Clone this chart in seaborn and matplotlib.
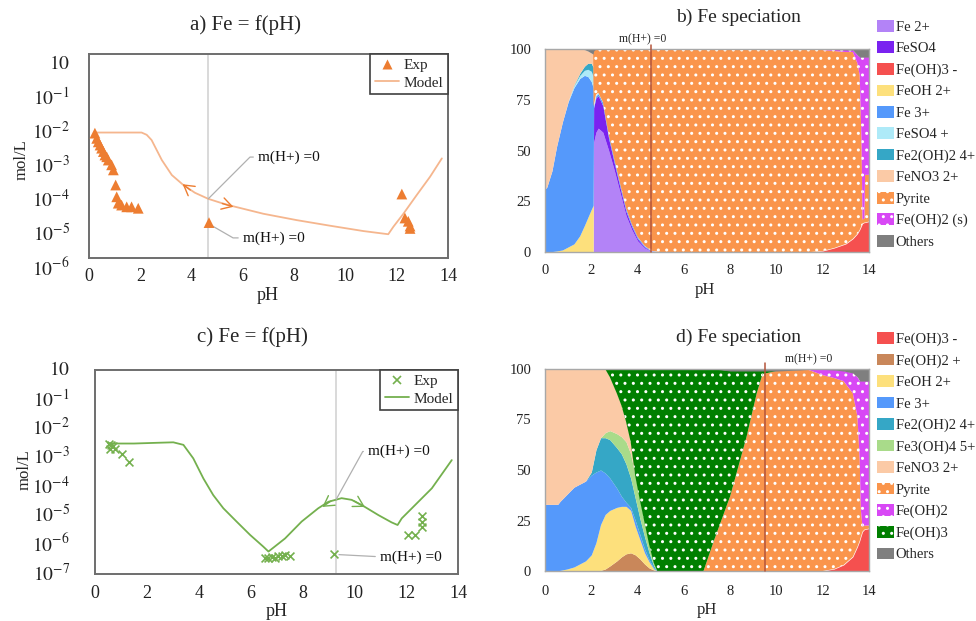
import matplotlib
matplotlib.use("Agg")
import matplotlib.pyplot as plt
import seaborn as sns
from matplotlib.patches import Patch
from matplotlib.lines import Line2D
from matplotlib.ticker import NullLocator
from matplotlib.transforms import ScaledTranslation, blended_transform_factory

sns.set_theme(style="white")
plt.rcParams["font.family"] = ["Liberation Serif", "DejaVu Serif"]
plt.rcParams["mathtext.fontset"] = "stix"
plt.rcParams["hatch.color"] = "white"
plt.rcParams["hatch.linewidth"] = 1.0

# ---------------- Panel a data ----------------
exp_a_ph = [0.23, 0.30, 0.36, 0.43, 0.49, 0.56, 0.62, 0.69, 0.75, 0.88, 0.95, 1.04,
            1.08, 1.14, 1.27, 1.47, 1.66, 1.92, 4.68, 12.2, 12.32, 12.45, 12.52, 12.52]
exp_a_fe = [4.7e-3, 3.3e-3, 2.6e-3, 2.1e-3, 1.7e-3, 1.35e-3, 1.07e-3, 9.5e-4, 7.6e-4, 5.5e-4,
            3.9e-4, 1.4e-4, 6.3e-5, 4.1e-5, 3.6e-5, 3.2e-5, 3.2e-5, 2.9e-5, 1.1e-5, 7.6e-5,
            1.5e-5, 1.2e-5, 8.7e-6, 7.4e-6]
model_a_ph = [0.23, 2.05, 2.25, 2.44, 2.84, 3.23, 3.68, 4.13, 4.65, 5.18, 5.57, 6.8, 8.1,
              9.4, 10.7, 11.67, 11.87, 12.26, 12.78, 13.3, 13.76]
model_a_fe = [4.9e-3, 4.9e-3, 4.2e-3, 2.95e-3, 7.6e-4, 2.75e-4, 1.4e-4, 8.3e-5, 5.5e-5, 4.1e-5,
              3.4e-5, 2.0e-5, 1.3e-5, 8.9e-6, 6.2e-6, 5.0e-6, 8.3e-6, 2.0e-5, 7.1e-5, 2.45e-4,
              8.5e-4]

# ---------------- Panel c data ----------------
exp_c_ph = [0.55, 0.58, 0.62, 0.70, 0.78, 1.03, 1.32, 6.56, 6.68, 6.81, 6.94, 7.07, 7.20,
            7.33, 7.52, 9.21, 12.06, 12.34, 12.60, 12.60, 12.60]
exp_c_fe = [3.0e-3, 2.0e-3, 2.6e-3, 2.4e-3, 2.0e-3, 1.3e-3, 7.1e-4, 3.6e-7, 3.5e-7, 3.9e-7,
            3.6e-7, 4.3e-7, 4.1e-7, 4.5e-7, 4.3e-7, 4.7e-7, 2.2e-6, 2.2e-6, 1.0e-5, 6.3e-6,
            4.2e-6]
model_c_ph = [0.51, 1.5, 2.5, 3.02, 3.41, 3.79, 4.18, 4.56, 4.95, 5.46, 5.98, 6.49, 6.69,
              7.33, 7.97, 8.61, 9.0, 9.51, 9.9, 10.41, 10.93, 11.44, 11.67, 11.83, 12.34,
              12.99, 13.76]
model_c_fe = [3.0e-3, 3.0e-3, 3.2e-3, 3.3e-3, 2.7e-3, 9.3e-4, 1.9e-4, 5.1e-5, 1.8e-5, 6.3e-6,
              2.2e-6, 8.7e-7, 5.9e-7, 1.66e-6, 6.3e-6, 1.8e-5, 3.0e-5, 4.0e-5, 3.5e-5, 2.0e-5,
              1.05e-5, 5.9e-6, 4.8e-6, 8.1e-6, 2.3e-5, 8.7e-5, 8.1e-4]

log_ticks_a = [1, 1e-1, 1e-2, 1e-3, 1e-4, 1e-5, 1e-6]
log_labels_a = ["$10$", "$10^{-1}$", "$10^{-2}$", "$10^{-3}$", "$10^{-4}$", "$10^{-5}$", "$10^{-6}$"]
log_ticks_c = [1, 1e-1, 1e-2, 1e-3, 1e-4, 1e-5, 1e-6, 1e-7]
log_labels_c = ["$10$", "$10^{-1}$", "$10^{-2}$", "$10^{-3}$", "$10^{-4}$", "$10^{-5}$", "$10^{-6}$",
                "$10^{-7}$"]
ph_ticks = [0, 2, 4, 6, 8, 10, 12, 14]
pct_ticks = [0, 25, 50, 75, 100]

# ---------------- Panel b data (% of Fe, stacked bottom -> top) ----------------
ph_b = [0, 0.08, 0.3, 0.5, 0.75, 1.0, 1.25, 1.5, 1.7, 1.85, 2.0, 2.08, 2.1, 2.2, 2.3, 2.5,
        2.75, 3.0, 3.25, 3.5, 3.75, 4.0, 4.3, 4.6, 5.0, 6.0, 8.0, 10.0, 11.5, 12.0, 12.5,
        13.0, 13.3, 13.5, 13.6, 13.68, 13.72, 13.8, 13.83, 14.0]
b_feoh3m = [0, 0, 0, 0, 0, 0, 0, 0, 0, 0, 0, 0, 0, 0, 0, 0, 0, 0, 0, 0, 0, 0, 0, 0, 0, 0, 0,
            0, 0, 0.5, 2, 4, 6.5, 9, 11, 13, 14, 14.5, 14.5, 15]
b_fe2 = [0, 0, 0, 0, 0, 0, 0, 0, 0, 0, 0, 0, 54, 59, 61, 59, 50, 40, 29, 18, 11, 5.5, 2, 0.3,
         0, 0, 0, 0, 0, 0, 0, 0, 0, 0, 0, 0, 0, 0, 0, 0]
b_feso4 = [0, 0, 0, 0, 0, 0, 0, 0, 0, 0, 0, 0, 17, 17, 16, 13, 6, 3.5, 2.5, 2, 1.5, 1, 0.5,
           0.1, 0, 0, 0, 0, 0, 0, 0, 0, 0, 0, 0, 0, 0, 0, 0, 0]
b_feoh2p = [0, 0, 0.2, 0.5, 1, 2.5, 4, 8, 13, 17, 21, 23, 0, 0, 0, 0, 0, 0, 0, 0, 0, 0, 0, 0,
            0, 0, 0, 0, 0, 0, 0, 0, 0, 0, 0, 0, 0, 0, 0, 0]
b_fe3 = [31, 32, 39.8, 51.5, 63, 71.5, 77, 77.5, 74, 69.5, 63, 58, 0.5, 1, 1, 1.5, 1.5, 1.5,
         1.5, 1.2, 1, 0.8, 0.5, 0.2, 0, 0, 0, 0, 0, 0, 0, 0, 0, 0, 0, 0, 0, 0, 0, 0]
b_feso4p = [0, 0, 0, 0, 0, 0.3, 1, 1.5, 2.5, 3.5, 5, 5.5, 0.3, 0.5, 0.5, 0.5, 0.5, 0.5, 0.5,
            0.4, 0.3, 0.2, 0.1, 0, 0, 0, 0, 0, 0, 0, 0, 0, 0, 0, 0, 0, 0, 0, 0, 0]
b_fe2oh2 = [0, 0, 0, 0, 0, 0, 0.3, 1, 2, 3, 4, 4.5, 0, 0, 0, 0, 0, 0, 0, 0, 0, 0, 0, 0, 0, 0,
            0, 0, 0, 0, 0, 0, 0, 0, 0, 0, 0, 0, 0, 0]
b_feno3 = [69, 68, 60, 48, 36, 25.7, 17.7, 12, 8.2, 6, 5, 6.5, 0, 0, 0, 0, 0, 0, 0, 0, 0, 0,
           0, 0, 0, 0, 0, 0, 0, 0, 0, 0, 0, 0, 0, 0, 0, 0, 0, 0]
b_pyrite = [0, 0, 0, 0, 0, 0, 0, 0, 0, 0, 0, 0, 27.2, 22.5, 21.5, 26, 42, 54.5, 66.5, 78.4,
            86.2, 92.5, 96.9, 99.4, 100, 100, 100, 100, 100, 99, 97, 94.5, 92, 84, 76, 40, 2,
            2, 23.5, 23]
b_feoh2s = [0, 0, 0, 0, 0, 0, 0, 0, 0, 0, 0, 0, 0, 0, 0, 0, 0, 0, 0, 0, 0, 0, 0, 0, 0, 0, 0,
            0, 0, 0.3, 0.7, 1, 1, 4, 9, 43, 80, 79.5, 58, 58]
b_others = [0, 0, 0, 0, 0, 0, 0, 0, 0.3, 1, 2, 2.5, 1, 0, 0, 0, 0, 0, 0, 0, 0, 0, 0, 0, 0, 0,
            0, 0, 0, 0.2, 0.3, 0.5, 0.5, 3, 4, 4, 4, 4, 4, 4]

# ---------------- Panel d data (% of Fe, stacked bottom -> top) ----------------
ph_d = [0, 0.55, 0.65, 0.95, 1.25, 1.5, 1.75, 2.0, 2.2, 2.4, 2.6, 2.8, 3.1, 3.3, 3.5, 3.7,
        3.9, 4.1, 4.3, 4.5, 4.7, 4.85, 5.5, 6.0, 6.5, 6.85, 7.3, 8.0, 8.7, 9.15, 9.4, 10.0,
        11.0, 11.4, 12.0, 12.5, 12.9, 13.3, 13.5, 13.6, 13.65, 13.72, 13.8, 14.0]
d_feoh3m = [0, 0, 0, 0, 0, 0, 0, 0, 0, 0, 0, 0, 0, 0, 0, 0, 0, 0, 0, 0, 0, 0, 0, 0, 0, 0, 0,
            0, 0, 0, 0, 0, 0, 0, 0, 1, 3, 7, 12, 15, 17, 19.5, 20.5, 21]
d_feoh2p = [0, 0, 0, 0, 0, 0, 0, 0, 0, 0.3, 1, 2.5, 5, 7, 8.5, 9, 8, 6, 3.5, 1.5, 0.5, 0, 0,
            0, 0, 0, 0, 0, 0, 0, 0, 0, 0, 0, 0, 0, 0, 0, 0, 0, 0, 0, 0, 0]
d_feoh2pp = [0, 0.2, 0.3, 1, 2, 3.5, 5, 8, 14, 22.7, 27, 27.5, 26.5, 25, 23.5, 21, 14, 9.5,
             5.5, 3, 0.5, 0, 0, 0, 0, 0, 0, 0, 0, 0, 0, 0, 0, 0, 0, 0, 0, 0, 0, 0, 0, 0, 0, 0]
d_fe3 = [33, 32.8, 34.2, 37, 39.5, 39.5, 39.5, 39.5, 35, 27, 20.5, 16, 9.5, 5, 2, 1.5, 3, 2.5,
         2, 1, 0.5, 0, 0, 0, 0, 0, 0, 0, 0, 0, 0, 0, 0, 0, 0, 0, 0, 0, 0, 0, 0, 0, 0, 0]
d_fe2oh2 = [0, 0, 0, 0, 0, 0, 0, 1.5, 11, 16, 17.5, 19, 20, 21, 19, 14.5, 11, 8, 6, 3.5, 1, 0,
            0, 0, 0, 0, 0, 0, 0, 0, 0, 0, 0, 0, 0, 0, 0, 0, 0, 0, 0, 0, 0, 0]
d_fe3oh4 = [0, 0, 0, 0, 0, 0, 0, 0, 0, 0, 2.5, 4.5, 7, 8.5, 11, 12, 11, 9, 7, 4, 1.5, 0, 0, 0,
            0, 0, 0, 0, 0, 0, 0, 0, 0, 0, 0, 0, 0, 0, 0, 0, 0, 0, 0, 0]
d_feno3 = [67, 67, 65.5, 62, 58.5, 57, 55.5, 51, 40, 34, 31.5, 26.5, 20, 15.5, 10, 6, 0, 0, 0,
           0, 0, 0, 0, 0, 0, 0, 0, 0, 0, 0, 0, 0, 0, 0, 0, 0, 0, 0, 0, 0, 0, 0, 0, 0]
d_pyrite = [0, 0, 0, 0, 0, 0, 0, 0, 0, 0, 0, 0, 0, 0, 0, 0, 0, 0, 0, 0, 0, 0, 0, 0, 0, 0, 15,
            37, 66, 88, 97.5, 99, 99.5, 99.5, 97, 94.5, 91, 81, 64.5, 40, 13, 2.5, 2, 1.5]
d_feoh2 = [0, 0, 0, 0, 0, 0, 0, 0, 0, 0, 0, 0, 0, 0, 0, 0, 0, 0, 0, 0, 0, 0, 0, 0, 0, 0, 0, 0,
           0, 0, 0, 0, 0, 0.3, 2.8, 4, 5, 10, 19.5, 39, 64, 72, 71.5, 71.5]
d_feoh3 = [0, 0, 0, 0, 0, 0, 0, 0, 0, 0, 0, 4, 12, 18, 26, 36, 53, 65, 76, 87, 96, 100, 100,
           100, 100, 100, 85, 62, 33, 11, 1.5, 0, 0, 0, 0, 0, 0, 0, 0, 0, 0, 0, 0, 0]
d_others = [0, 0, 0, 0, 0, 0, 0, 0, 0, 0, 0, 0, 0, 0, 0, 0, 0, 0, 0, 0, 0, 0, 0, 0, 0, 0, 0, 1,
            1, 1, 1, 1, 0.5, 0.2, 0.2, 0.5, 1, 2, 4, 6, 6, 6, 6, 6]

# ---------------- colours ----------------
C = {
    "Fe 2+": "#B383F7", "FeSO4": "#7A22F0", "Fe(OH)3 -": "#F5504F", "FeOH 2+": "#FDE07C",
    "Fe 3+": "#5599FB", "FeSO4 +": "#AEEAF8", "Fe2(OH)2 4+": "#35A7C6", "FeNO3 2+": "#FBCAA6",
    "Pyrite": "#FA954C", "Fe(OH)2 (s)": "#D848F5", "Fe(OH)2": "#D848F5", "Others": "#7F7F7F",
    "Fe(OH)2 +": "#C9875A", "Fe3(OH)4 5+": "#A9DB8A", "Fe(OH)3": "#007F00",
}
HATCHED = {"Pyrite", "Fe(OH)2 (s)", "Fe(OH)2", "Fe(OH)3"}
EXP_A, MODEL_A = "#ED7D31", "#F5B68E"
GREEN = "#74B04E"

W, H = 976, 621
fig = plt.figure(figsize=(W / 100, H / 100), dpi=100)


def fx(px):
    return px / W


def fy(py):
    return 1 - py / H


ax_a = fig.add_axes([fx(89), fy(258), 359 / W, 204 / H])
ax_b = fig.add_axes([fx(545), fy(252), 324 / W, 203 / H])
ax_c = fig.add_axes([fx(95), fy(574), 363 / W, 204 / H])
ax_d = fig.add_axes([fx(545), fy(571), 324 / W, 202 / H])


def log_panel(ax, mph, mfe, eph, efe, line_col, mk_col, marker, ticks, labels, ymin,
              ylab_dx, ylab_shift, xpad):
    sns.lineplot(x=mph, y=mfe, ax=ax, color=line_col, lw=1.3, sort=False, estimator=None,
                 legend=False)
    if marker == "^":
        sns.scatterplot(x=eph, y=efe, ax=ax, marker="^", s=60, color=mk_col, edgecolor="none",
                        legend=False, zorder=4)
    else:
        sns.scatterplot(x=eph, y=efe, ax=ax, marker="x", s=32, color=mk_col, linewidth=1.2,
                        legend=False, zorder=4)
    ax.set_yscale("log")
    ax.set_ylim(ymin, 1)
    ax.set_xlim(0, 14)
    ax.set_xticks(ph_ticks)
    ax.set_yticks(ticks)
    ax.set_yticklabels([])
    ax.yaxis.set_minor_locator(NullLocator())
    ax.tick_params(length=0, labelsize=13, pad=xpad, colors="#222222")
    ax.set_xlabel("")
    ax.set_ylabel("")
    tr = blended_transform_factory(ax.transAxes, ax.transData) + \
        ScaledTranslation(0, ylab_shift / 100, fig.dpi_scale_trans)
    for v, lab in zip(ticks, labels):
        ax.text(ylab_dx, v, lab, transform=tr, ha="right", va="center", fontsize=14,
                color="#222222")
    for s in ax.spines.values():
        s.set_color("#6E6E6E")
        s.set_linewidth(1.4)


leg_kw = dict(loc="upper right", borderaxespad=0, fancybox=False, framealpha=1,
              edgecolor="#404040", fontsize=11, handlelength=1.6, handletextpad=0.3,
              borderpad=0.3, labelspacing=0.25)

# ---------------- Panel a ----------------
ax_a.axvline(4.65, color="#D3D3D3", lw=1.2, zorder=1)
log_panel(ax_a, model_a_ph, model_a_fe, exp_a_ph, exp_a_fe, MODEL_A, EXP_A, "^",
          log_ticks_a, log_labels_a, 1e-6, -19 / 359, -10, 7)
leg = ax_a.legend([Line2D([], [], marker="^", ls="none", color=EXP_A, mec="none", markersize=7),
                   Line2D([], [], color=MODEL_A, lw=1.3)], ["Exp", "Model"], **leg_kw)
leg.get_frame().set_linewidth(1.2)
ann_kw = dict(fontsize=11, ha="left", va="center", color="#111111")
ax_a.annotate("m(H+) =0", xy=(4.65, 5.5e-5), xytext=(6.59, 9.3e-4), **ann_kw,
              arrowprops=dict(arrowstyle="-", color="#B0B0B0", lw=0.9, shrinkA=1, shrinkB=0,
                              relpos=(0, 0.5), connectionstyle="angle,angleA=0,angleB=45"))
ax_a.annotate("m(H+) =0", xy=(4.68, 1.0e-5), xytext=(6.0, 3.9e-6), **ann_kw,
              arrowprops=dict(arrowstyle="-", color="#B0B0B0", lw=0.9, shrinkA=1, shrinkB=2,
                              relpos=(0, 0.5), connectionstyle="angle,angleA=0,angleB=-30"))
arr_a = dict(arrowstyle="->,head_length=0.6,head_width=0.35", color=EXP_A, lw=1.0,
             shrinkA=0, shrinkB=0)
ax_a.annotate("", xy=(3.65, 1.48e-4), xytext=(3.95, 1.0e-4), arrowprops=arr_a)
ax_a.annotate("", xy=(5.63, 3.2e-5), xytext=(5.2, 4.0e-5), arrowprops=arr_a)

# ---------------- Panel c ----------------
ax_c.axvline(9.3, color="#D3D3D3", lw=1.2, zorder=1)
log_panel(ax_c, model_c_ph, model_c_fe, exp_c_ph, exp_c_fe, GREEN, GREEN, "x",
          log_ticks_c, log_labels_c, 1e-7, -25 / 363, 0, 8)
leg = ax_c.legend([Line2D([], [], marker="x", ls="none", color=GREEN, markersize=6, mew=1.2),
                   Line2D([], [], color=GREEN, lw=1.3)], ["Exp", "Model"], **leg_kw)
leg.get_frame().set_linewidth(1.2)
ax_c.annotate("m(H+) =0", xy=(9.3, 3.6e-5), xytext=(10.53, 1.6e-3), **ann_kw,
              arrowprops=dict(arrowstyle="-", color="#B0B0B0", lw=0.9, shrinkA=1, shrinkB=0,
                              relpos=(0, 0.5), connectionstyle="angle,angleA=0,angleB=61"))
ax_c.annotate("m(H+) =0", xy=(9.25, 4.7e-7), xytext=(10.99, 3.9e-7), **ann_kw,
              arrowprops=dict(arrowstyle="-", color="#B0B0B0", lw=0.9, shrinkA=1, shrinkB=3,
                              relpos=(0, 0.5)))
arr_c = dict(arrowstyle="->,head_length=0.6,head_width=0.35", color=GREEN, lw=1.0,
             shrinkA=0, shrinkB=0)
ax_c.annotate("", xy=(8.77, 2.0e-5), xytext=(9.1, 3.2e-5), arrowprops=arr_c)
ax_c.annotate("", xy=(10.41, 2.0e-5), xytext=(10.0, 3.2e-5), arrowprops=arr_c)


# ---------------- stacked panels ----------------
def stack_panel(ax, ph, layers, legend_names, leg_top, vline_x, vtop, lab_xy, xpad):
    names = [n for n, _ in layers]
    polys = ax.stackplot(ph, *[v for _, v in layers], colors=[C[n] for n in names],
                         linewidth=0)
    for p, n in zip(polys, names):
        if n in HATCHED:
            p.set_hatch("..")
            p.set_edgecolor("white")
            p.set_linewidth(0)
    ax.set_xlim(0, 14)
    ax.set_ylim(0, 100)
    ax.set_xticks(ph_ticks)
    ax.set_yticks(pct_ticks)
    ax.tick_params(length=0, labelsize=10.5, colors="#222222")
    ax.tick_params(axis="x", pad=xpad)
    ax.tick_params(axis="y", pad=10)
    for s in ax.spines.values():
        s.set_color("#A8A8A8")
        s.set_linewidth(1.0)
    ax.axvline(vline_x, ymin=0, ymax=vtop, color="#B4553A", lw=1.1, clip_on=False, zorder=5)
    ax.text(lab_xy[0], lab_xy[1], "m(H+) =0", ha="center", va="center", fontsize=8.5,
            clip_on=False)
    handles = [Patch(facecolor=C[n], edgecolor="white" if n in HATCHED else "none",
                     hatch=".." if n in HATCHED else None, lw=0) for n in legend_names]
    ax.legend(handles, legend_names, loc="upper left", bbox_to_anchor=(fx(877), fy(leg_top)),
              bbox_transform=fig.transFigure, frameon=False, fontsize=10.5, handlelength=1.15,
              handleheight=0.85, handletextpad=0.12, labelspacing=0.52, borderpad=0,
              borderaxespad=0)


layers_b = [("Fe(OH)3 -", b_feoh3m), ("Fe 2+", b_fe2), ("FeSO4", b_feso4),
            ("FeOH 2+", b_feoh2p), ("Fe 3+", b_fe3), ("FeSO4 +", b_feso4p),
            ("Fe2(OH)2 4+", b_fe2oh2), ("FeNO3 2+", b_feno3), ("Pyrite", b_pyrite),
            ("Fe(OH)2 (s)", b_feoh2s), ("Others", b_others)]
legend_b = ["Fe 2+", "FeSO4", "Fe(OH)3 -", "FeOH 2+", "Fe 3+", "FeSO4 +", "Fe2(OH)2 4+",
            "FeNO3 2+", "Pyrite", "Fe(OH)2 (s)", "Others"]
stack_panel(ax_b, ph_b, layers_b, legend_b, 20, 4.6, 1.02, (4.23, 104.9), 9)

layers_d = [("Fe(OH)3 -", d_feoh3m), ("Fe(OH)2 +", d_feoh2p), ("FeOH 2+", d_feoh2pp),
            ("Fe 3+", d_fe3), ("Fe2(OH)2 4+", d_fe2oh2), ("Fe3(OH)4 5+", d_fe3oh4),
            ("FeNO3 2+", d_feno3), ("Pyrite", d_pyrite), ("Fe(OH)2", d_feoh2),
            ("Fe(OH)3", d_feoh3), ("Others", d_others)]
legend_d = ["Fe(OH)3 -", "Fe(OH)2 +", "FeOH 2+", "Fe 3+", "Fe2(OH)2 4+", "Fe3(OH)4 5+",
            "FeNO3 2+", "Pyrite", "Fe(OH)2", "Fe(OH)3", "Others"]
stack_panel(ax_d, ph_d, layers_d, legend_d, 332, 9.5, 1.03, (11.41, 104.8), 10)

# ---------------- titles and axis labels ----------------
fig.text(fx(245), fy(25), "a) Fe = f(pH)", ha="center", va="center", fontsize=15)
fig.text(fx(739), fy(17), "b) Fe speciation", ha="center", va="center", fontsize=14)
fig.text(fx(252), fy(337), "c) Fe = f(pH)", ha="center", va="center", fontsize=15)
fig.text(fx(739), fy(337), "d) Fe speciation", ha="center", va="center", fontsize=14)
fig.text(fx(268), fy(295), "pH", ha="center", va="center", fontsize=13)
fig.text(fx(277), fy(612), "pH", ha="center", va="center", fontsize=13)
fig.text(fx(705), fy(290), "pH", ha="center", va="center", fontsize=12)
fig.text(fx(707), fy(610), "pH", ha="center", va="center", fontsize=12)
fig.text(fx(22), fy(160), "mol/L", ha="center", va="center", fontsize=12, rotation=90)
fig.text(fx(25), fy(470), "mol/L", ha="center", va="center", fontsize=12, rotation=90)

fig.savefig("out.png", dpi=100)
